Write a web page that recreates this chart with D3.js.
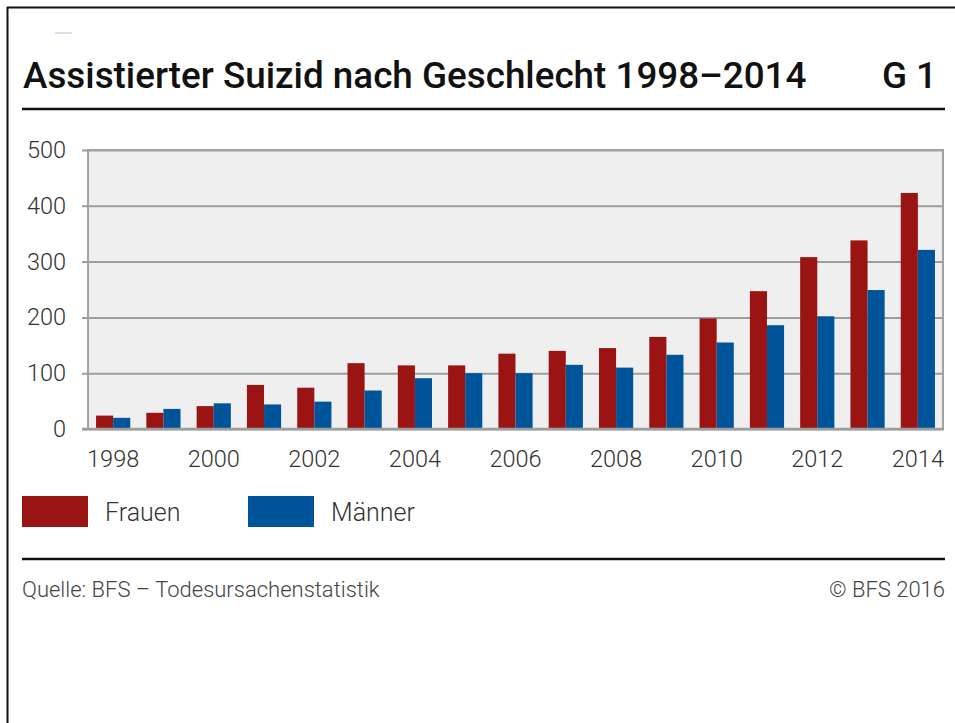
<!DOCTYPE html>
<html><head><meta charset="utf-8">
<script src="https://cdn.jsdelivr.net/npm/d3@7"></script>
<style>
html,body{margin:0;padding:0;background:#fff;}
text{font-family:Roboto,"Noto Sans",sans-serif;}
</style></head>
<body>
<svg id="chart" width="955" height="723"></svg>
<script>
const years = [1998,1999,2000,2001,2002,2003,2004,2005,2006,2007,2008,2009,2010,2011,2012,2013,2014];
const frauen = [24,29,41,79,74,118,114,114,135,140,145,165,198,247,308,338,423];
const maenner = [20,36,46,44,49,69,91,100,100,115,110,133,155,186,202,249,321];
const seriesNames = ["Frauen","Männer"];
const seriesColors = ["#9a1414","#00559a"];
const yTicks = [0,100,200,300,400,500];
const xTickLabels = [1998,2000,2002,2004,2006,2008,2010,2012,2014];
const title = "Assistierter Suizid nach Geschlecht 1998–2014";
const chartNo = "G 1";
const source = "Quelle: BFS – Todesursachenstatistik";
const copyright = "© BFS 2016";

const svg = d3.select("#chart");
const L = 88, R = 943, T = 150, B = 429;

// frame
svg.append("line").attr("x1",7).attr("x2",955).attr("y1",7.5).attr("y2",7.5).attr("stroke","#111").attr("stroke-width",2);
svg.append("line").attr("x1",7.5).attr("x2",7.5).attr("y1",7).attr("y2",723).attr("stroke","#111").attr("stroke-width",2);
// faint logo trace
svg.append("line").attr("x1",55).attr("x2",72).attr("y1",33).attr("y2",33).attr("stroke","#c9d7ec").attr("stroke-width",1.5);

// title
svg.append("text").attr("x",23).attr("y",88).attr("font-size",36.8).attr("font-weight",500).attr("fill","#111").text(title);
svg.append("text").attr("x",937).attr("y",88).attr("text-anchor","end").attr("font-size",36.8).attr("font-weight",500).attr("fill","#111").text(chartNo);
svg.append("line").attr("x1",22).attr("x2",945).attr("y1",109).attr("y2",109).attr("stroke","#111").attr("stroke-width",2.5);

// scales
const x = d3.scaleBand().domain(years).range([L,R]).paddingInner(0.32).paddingOuter(0.16);
const xs = d3.scaleBand().domain(seriesNames).range([0,x.bandwidth()]);
const y = d3.scaleLinear().domain([0,500]).range([B,T]);
const color = d3.scaleOrdinal().domain(seriesNames).range(seriesColors);

// plot background
svg.append("rect").attr("x",L).attr("y",T).attr("width",R-L).attr("height",B-T).attr("fill","#efefef");

// y axis with grid
const yAxis = svg.append("g").attr("transform",`translate(${L},0)`)
  .call(d3.axisLeft(y).tickValues(yTicks).tickSizeOuter(0).tickSizeInner(0).tickPadding(22));
yAxis.select(".domain").remove();
yAxis.selectAll(".tick line").attr("x1",-6).attr("x2",R-L).attr("stroke","#9c9e9e").attr("stroke-width",2);
yAxis.selectAll(".tick text").attr("font-size",23.5).attr("font-weight",300).attr("fill","#333").attr("font-family","Roboto");

// bars
const data = years.map((yr,i)=>({year:yr, vals:[{s:"Frauen",v:frauen[i]},{s:"Männer",v:maenner[i]}]}));
const groups = svg.append("g").selectAll("g").data(data).join("g")
  .attr("transform",d=>`translate(${x(d.year)},0)`);
groups.selectAll("rect").data(d=>d.vals).join("rect")
  .attr("x",d=>xs(d.s)).attr("width",xs.bandwidth())
  .attr("y",d=>y(d.v)).attr("height",d=>y(0)-y(d.v))
  .attr("fill",d=>color(d.s));

// plot border (left, top, right) and baseline
svg.append("path").attr("d",`M${L},${B}V${T}H${R}V${B}`).attr("fill","none").attr("stroke","#a0a3a3").attr("stroke-width",2);
svg.append("line").attr("x1",L-6).attr("x2",R+1).attr("y1",y(0)).attr("y2",y(0)).attr("stroke","#9c9e9e").attr("stroke-width",2.5);

// x axis labels
const xAxis = svg.append("g").attr("transform",`translate(0,${B})`)
  .call(d3.axisBottom(x).tickValues(xTickLabels).tickSize(0).tickPadding(21));
xAxis.select(".domain").remove();
xAxis.selectAll(".tick text").attr("font-size",23.5).attr("font-weight",300).attr("fill","#333").attr("font-family","Roboto");

// legend
const leg = svg.append("g").selectAll("g").data(seriesNames).join("g")
  .attr("transform",(d,i)=>`translate(${22+i*226},496)`);
leg.append("rect").attr("width",66).attr("height",31).attr("fill",d=>color(d));
leg.append("text").attr("x",83).attr("y",25).attr("font-size",25).attr("font-weight",300).attr("fill","#333").text(d=>d);

// footer
svg.append("line").attr("x1",22).attr("x2",945).attr("y1",559).attr("y2",559).attr("stroke","#111").attr("stroke-width",2.5);
svg.append("text").attr("x",22).attr("y",597).attr("font-size",22).attr("font-weight",300).attr("fill","#444").text(source);
svg.append("text").attr("x",945).attr("y",597).attr("text-anchor","end").attr("font-size",22).attr("font-weight",300).attr("fill","#444").text(copyright);
</script>
</body></html>
